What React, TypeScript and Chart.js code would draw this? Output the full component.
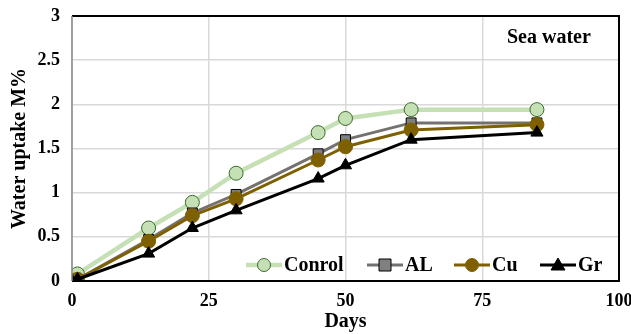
import React, { useEffect, useRef } from "react";
import { Chart, registerables } from "chart.js";
Chart.register(...registerables);

const days = [0, 1, 14, 22, 30, 45, 50, 62, 85];
const conrol = [0.02, 0.08, 0.6, 0.89, 1.22, 1.68, 1.84, 1.94, 1.94];
const al = [0.01, 0.02, 0.47, 0.77, 0.98, 1.44, 1.6, 1.79, 1.79];
const cu = [0.01, 0.02, 0.45, 0.74, 0.93, 1.37, 1.52, 1.71, 1.77];
const gr = [0.0, 0.02, 0.31, 0.6, 0.8, 1.16, 1.31, 1.6, 1.68];
const seriesNames = ["Conrol", "AL", "Cu", "Gr"];
const xTicks = [0, 25, 50, 75, 100];
const yTicks = [0, 0.5, 1, 1.5, 2, 2.5, 3];
const yTickLabels = ["0", "0.5", "1", "1.5", "2", "2.5", "3"];

const FONT = "'Liberation Serif', 'Times New Roman', serif";

const styles = [
  { line: "#c5e0b4", fill: "#c5e0b4", border: "#3a6b2a", shape: "circle", r: 7, w: 4.5 },
  { line: "#767171", fill: "#808080", border: "#000000", shape: "rect", r: 7, w: 3 },
  { line: "#7f6000", fill: "#7f6000", border: "#7f6000", shape: "circle", r: 7, w: 3 },
  { line: "#000000", fill: "#000000", border: "#000000", shape: "triangle", r: 7, w: 3 },
];

export default function App() {
  const ref = useRef<HTMLCanvasElement>(null);
  useEffect(() => {
    const values = [conrol, al, cu, gr];
    const datasets = values.map((vals, i) => ({
      label: seriesNames[i],
      data: days.map((d, j) => ({ x: d, y: vals[j] })),
      borderColor: styles[i].line,
      backgroundColor: styles[i].fill,
      pointBorderColor: styles[i].border,
      pointBackgroundColor: styles[i].fill,
      pointStyle: styles[i].shape as any,
      pointRadius: styles[i].r,
      pointBorderWidth: 1,
      borderWidth: styles[i].w,
      tension: 0,
      order: 4 - i,
    }));

    const frame = {
      id: "frame",
      afterDatasetsDraw(chart: any) {
        const { ctx, chartArea: a } = chart;
        ctx.save();
        ctx.strokeStyle = "#000";
        ctx.lineWidth = 2;
        ctx.beginPath();
        ctx.moveTo(a.left, a.top);
        ctx.lineTo(a.right, a.top);
        ctx.lineTo(a.right, a.bottom);
        ctx.lineTo(a.left, a.bottom);
        ctx.stroke();
        ctx.strokeStyle = "#888";
        ctx.lineWidth = 1.5;
        ctx.beginPath();
        ctx.moveTo(a.left, a.top);
        ctx.lineTo(a.left, a.bottom);
        ctx.stroke();
        // title
        ctx.fillStyle = "#000";
        ctx.font = `bold 20px ${FONT}`;
        ctx.textAlign = "left";
        ctx.textBaseline = "middle";
        ctx.fillText("Sea water", 507, 38);
        // legend
        const ly = 265;
        const xs = [246, 367, 454, 540];
        xs.forEach((x0, i) => {
          const s = styles[i];
          ctx.strokeStyle = s.line;
          ctx.lineWidth = s.w;
          ctx.beginPath();
          ctx.moveTo(x0, ly);
          ctx.lineTo(x0 + 36, ly);
          ctx.stroke();
          const cx = x0 + 18;
          ctx.fillStyle = s.fill;
          ctx.strokeStyle = s.border;
          ctx.lineWidth = 1;
          ctx.beginPath();
          if (s.shape === "circle") {
            ctx.arc(cx, ly, 6.5, 0, Math.PI * 2);
          } else if (s.shape === "rect") {
            ctx.rect(cx - 6, ly - 6, 12, 12);
          } else {
            ctx.moveTo(cx, ly - 7);
            ctx.lineTo(cx + 7, ly + 5);
            ctx.lineTo(cx - 7, ly + 5);
            ctx.closePath();
          }
          ctx.fill();
          ctx.stroke();
          ctx.fillStyle = "#000";
          ctx.font = `bold 20px ${FONT}`;
          ctx.fillText(seriesNames[i], x0 + 38, ly + 1);
        });
        ctx.restore();
      },
    };

    const chart = new Chart(ref.current!, {
      type: "line",
      data: { datasets },
      options: {
        animation: false,
        responsive: false,
        layout: { padding: { top: 16, right: 12, left: 0, bottom: 0 } },
        plugins: { legend: { display: false }, tooltip: { enabled: false } },
        scales: {
          x: {
            type: "linear",
            min: 0,
            max: 100,
            afterBuildTicks: (s: any) => {
              s.ticks = xTicks.map((v) => ({ value: v }));
            },
            afterFit: (s: any) => {
              s.height = 53;
              s.paddingLeft = 0;
              s.paddingRight = 0;
            },
            grid: { color: "#d9d9d9", lineWidth: 1.5, drawTicks: false },
            border: { display: false },
            ticks: { color: "#000", font: { family: FONT, weight: "bold", size: 18 }, padding: 10, maxRotation: 0 },
            title: { display: true, text: "Days", color: "#000", font: { family: FONT, weight: "bold", size: 20 }, padding: { top: 0, bottom: 0 } },
          },
          y: {
            type: "linear",
            min: 0,
            max: 3,
            afterBuildTicks: (s: any) => {
              s.ticks = yTicks.map((v) => ({ value: v }));
            },
            afterFit: (s: any) => {
              s.width = 72;
              s.paddingTop = 0;
              s.paddingBottom = 0;
            },
            grid: { color: "#d9d9d9", lineWidth: 1.5, drawTicks: false },
            border: { display: false },
            ticks: {
              color: "#000",
              font: { family: FONT, weight: "bold", size: 18 },
              padding: 12,
              callback: (_v: any, i: number) => yTickLabels[i],
            },
            title: { display: true, text: "Water uptake M%", color: "#000", font: { family: FONT, weight: "bold", size: 20 }, padding: { top: 8, bottom: 0 } },
          },
        },
      },
      plugins: [frame],
    } as any);
    return () => chart.destroy();
  }, []);
  return (
    <div style={{ position: "fixed", left: 0, top: 0, width: 631, height: 334, background: "#fff" }}>
      <canvas ref={ref} width={631} height={334} style={{ display: "block" }} />
    </div>
  );
}
